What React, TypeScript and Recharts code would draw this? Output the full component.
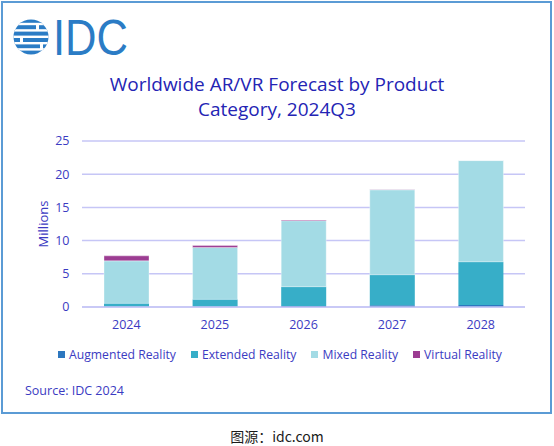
import { BarChart, Bar, XAxis, YAxis, CartesianGrid } from "recharts";

const years = ["2024", "2025", "2026", "2027", "2028"];
const augmentedReality = [0.05, 0.05, 0.15, 0.25, 0.3];
const extendedReality = [0.5, 1.1, 2.9, 4.6, 6.5];
const mixedReality = [6.4, 7.8, 9.95, 12.8, 15.25];
const virtualReality = [0.75, 0.3, 0.1, 0.05, 0.02];
const yTicks = [0, 5, 10, 15, 20, 25];

const series = [
  { key: "ar", name: "Augmented Reality", color: "#2d77bf", edge: false },
  { key: "xr", name: "Extended Reality", color: "#37aec8", edge: false },
  { key: "mr", name: "Mixed Reality", color: "#a3dbe5", edge: true },
  { key: "vr", name: "Virtual Reality", color: "#9c3c92", edge: true },
];

const data = years.map((year, i) => ({
  year,
  ar: augmentedReality[i],
  xr: extendedReality[i],
  mr: mixedReality[i],
  vr: virtualReality[i],
}));

const FONT = "'Open Sans', 'Noto Sans', sans-serif";
const TEXT_BLUE = "#3b3bc2";
const LOGO_BLUE = "#2b7cc5";

function Logo() {
  const gaps = [24, 30.4, 36.8, 43.2, 49.4];
  return (
    <g>
      <defs>
        <clipPath id="logoClip">
          <circle cx={31} cy={37} r={17.5} />
        </clipPath>
      </defs>
      <g clipPath="url(#logoClip)">
        <rect x={12} y={18} width={40} height={38} fill={LOGO_BLUE} />
        {gaps.map((g) => (
          <rect key={g} x={12} y={g - 1.2} width={40} height={2.4} fill="#fff" />
        ))}
        <rect x={36} y={25} width={3} height={5} fill="#fff" />
        <rect x={20} y={38} width={3} height={5} fill="#fff" />
        <rect x={40} y={44} width={3} height={5} fill="#fff" />
      </g>
      <text
        x={53}
        y={55}
        fontFamily="'Liberation Sans', Arial, sans-serif"
        fontSize={50}
        textLength={75}
        lengthAdjust="spacingAndGlyphs"
        fill={LOGO_BLUE}
      >
        IDC
      </text>
    </g>
  );
}

export default function App() {
  return (
    <div
      style={{
        position: "absolute",
        left: 0,
        top: 0,
        width: 554,
        height: 446,
        background: "#fff",
        fontFamily: FONT,
      }}
    >
      <div
        style={{
          position: "absolute",
          left: 1,
          top: 1,
          width: 547,
          height: 409,
          border: "2px solid #5b9bd5",
        }}
      />
      <svg width={554} height={446} style={{ position: "absolute", left: 0, top: 0 }}>
        <Logo />
        <text x={277} y={91} textAnchor="middle" fontFamily={FONT} fontSize={19} fill="#2424b4">
          Worldwide AR/VR Forecast by Product
        </text>
        <text x={277} y={116} textAnchor="middle" fontFamily={FONT} fontSize={19} fill="#2424b4">
          Category, 2024Q3
        </text>
        <text x={25} y={394.5} fontFamily={FONT} fontSize={12.5} fill={TEXT_BLUE}>
          Source: IDC 2024
        </text>
        <text
          x={277}
          y={442}
          textAnchor="middle"
          fontFamily="'Noto Sans CJK SC', sans-serif"
          fontSize={14}
          fill="#1a1a1a"
        >
          图源：idc.com
        </text>
      </svg>
      <div style={{ position: "absolute", left: 0, top: 0 }}>
        <BarChart
          width={554}
          height={446}
          data={data}
          margin={{ top: 141, right: 29, bottom: 109, left: 42 }}
        >
          <CartesianGrid vertical={false} stroke="#c6c6f6" strokeWidth={1.5} />
          <XAxis
            dataKey="year"
            height={30}
            tickLine={false}
            tickMargin={7.5}
            axisLine={{ stroke: "#c6c6f6", strokeWidth: 1.5 }}
            tick={{ fill: TEXT_BLUE, fontSize: 12.5, fontFamily: FONT }}
          />
          <YAxis
            width={40}
            domain={[0, 25]}
            ticks={yTicks}
            tickLine={false}
            axisLine={false}
            tickMargin={6.5}
            tick={{ fill: TEXT_BLUE, fontSize: 12.5, fontFamily: FONT }}
            label={{
              value: "Millions",
              angle: -90,
              position: "insideLeft",
              offset: 0,
              dx: 1,
              style: { fill: TEXT_BLUE, fontSize: 13, fontFamily: FONT, textAnchor: "middle" },
            }}
          />
          {series.map((s) => (
            <Bar
              key={s.key}
              dataKey={s.key}
              name={s.name}
              stackId="a"
              fill={s.color}
              barSize={45}
              stroke={s.edge ? "#ffffff" : "none"}
              strokeOpacity={0.35}
              strokeWidth={1}
              isAnimationActive={false}
            />
          ))}
        </BarChart>
      </div>
      <div
        style={{
          position: "absolute",
          left: 0,
          top: 345,
          width: 560,
          height: 18,
          display: "flex",
          justifyContent: "center",
          alignItems: "center",
          gap: 15,
          fontSize: 12.2,
          color: TEXT_BLUE,
        }}
      >
        {series.map((s) => (
          <div key={s.key} style={{ display: "flex", alignItems: "center", gap: 4 }}>
            <div style={{ width: 7, height: 7, background: s.color }} />
            <span>{s.name}</span>
          </div>
        ))}
      </div>
    </div>
  );
}
